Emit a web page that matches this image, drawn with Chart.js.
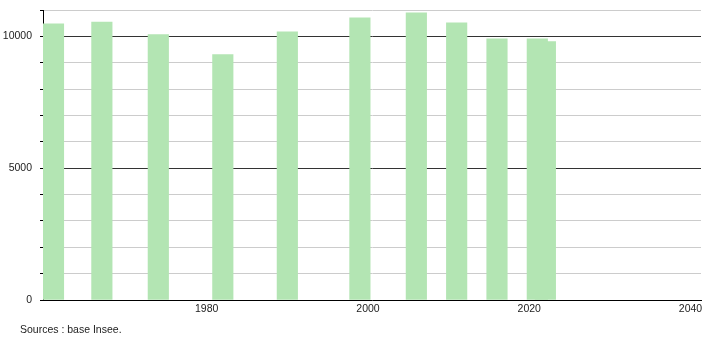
<!DOCTYPE html>
<html>
<head>
<meta charset="utf-8">
<script src="https://cdn.jsdelivr.net/npm/chart.js@4/dist/chart.umd.min.js"></script>
<style>
  body { margin: 0; background: #fff; }
  #wrap { position: relative; width: 710px; height: 340px; }
  #source {
    position: absolute; left: 20px; top: 322px;
    font: 10.5px "Liberation Sans", Arial, sans-serif; line-height: 14px; color: #222;
  }
</style>
</head>
<body>
<div id="wrap">
  <canvas id="myChart"></canvas>
  <div id="source">Sources : base Insee.</div>
</div>
<script>
// années de recensement (position)
let years = [1961, 1967, 1974, 1982, 1990, 1999, 2006, 2011, 2016, 2021, 2022];
// population
let population = [10476, 10540, 10070, 9310, 10171, 10705, 10895, 10514, 9905, 9905, 9802];
let xTicks = [1980, 2000, 2020, 2040];
let yLabels = [0, 5000, 10000];

let points = [];
years.forEach(function(y, i){
    points.push({x: y, y: population[i]});
});

let font = {family: '"Liberation Sans", Arial, sans-serif', size: 10.5};

let config = {
    type: 'bar',
    data: {
        datasets: [{
            data: points,
            backgroundColor: '#b3e5b3',
            barThickness: 20.5
        }]
    },
    options: {
        responsive: true,
        maintainAspectRatio: false,
        animation: false,
        layout: {padding: {top: 10, right: 9, left: 0, bottom: 0}},
        plugins: {legend: {display: false}, tooltip: {enabled: false}},
        scales: {
            x: {
                type: 'linear',
                offset: false,
                min: 1959.7,
                max: 2041.3,
                grid: {display: false, drawTicks: false},
                border: {color: '#000', width: 1},
                afterBuildTicks: function(axis){
                    axis.ticks = xTicks.map(function(v){ return {value: v}; });
                },
                afterFit: function(axis){
                    axis.height = 40;
                    axis.paddingLeft = 0;
                    axis.paddingRight = 0;
                },
                ticks: {
                    font: font, color: '#222', padding: 3, maxRotation: 0,
                    callback: function(v){ return String(v); }
                }
            },
            y: {
                min: 0,
                max: 11000,
                grid: {
                    color: function(ctx){
                        let v = ctx.tick.value;
                        return (v === 5000 || v === 10000) ? '#333' : '#cccccc';
                    },
                    tickColor: '#000',
                    tickLength: 3
                },
                border: {color: '#000', width: 1},
                afterFit: function(axis){
                    axis.width = 43;
                    axis.paddingTop = 0;
                    axis.paddingBottom = 0;
                },
                ticks: {
                    stepSize: 1000,
                    font: font, color: '#222', padding: 8,
                    callback: function(v){
                        return yLabels.indexOf(v) >= 0 ? String(v) : '';
                    }
                }
            }
        }
    }
};

let myChart = new Chart(document.getElementById('myChart'), config);
</script>
</body>
</html>
